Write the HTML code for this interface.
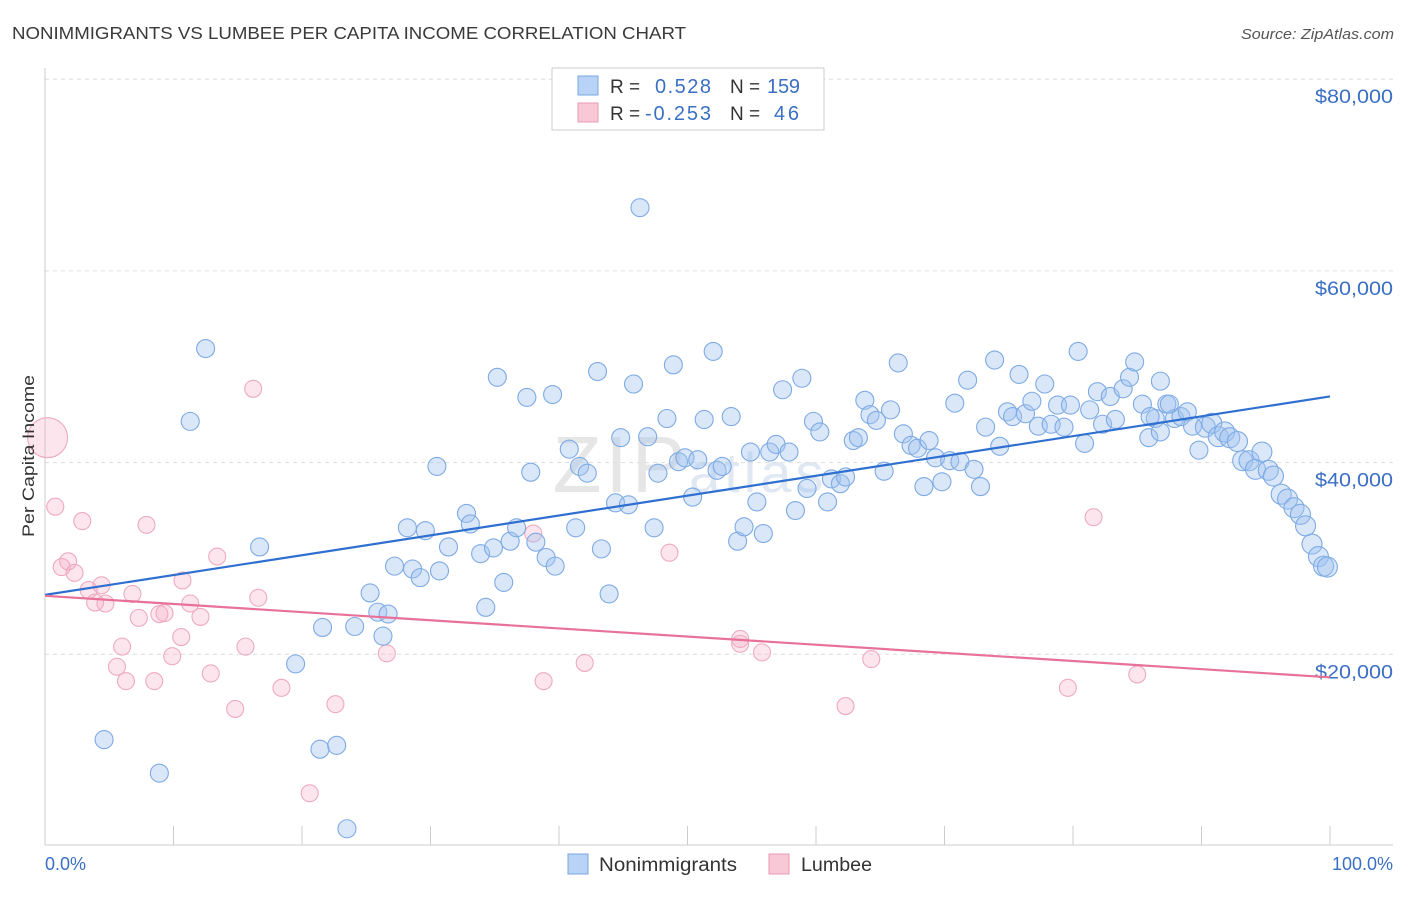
<!DOCTYPE html>
<html><head><meta charset="utf-8"><style>
body{margin:0;background:#fff;font-family:"Liberation Sans",sans-serif;}
svg text{font-family:"Liberation Sans",sans-serif;}
</style></head><body>
<svg id="chart" width="1406" height="892" xmlns="http://www.w3.org/2000/svg">
<text x="12" y="39" font-size="17.5" fill="#3a3a3a" textLength="674" lengthAdjust="spacingAndGlyphs">NONIMMIGRANTS VS LUMBEE PER CAPITA INCOME CORRELATION CHART</text>
<text x="1394" y="39" font-size="15" fill="#555" font-style="italic" text-anchor="end" textLength="153" lengthAdjust="spacingAndGlyphs">Source: ZipAtlas.com</text>
<text x="690" y="492" font-size="80" fill="#e6e6e6" text-anchor="middle" font-family="Liberation Serif" letter-spacing="4">ZIP<tspan font-family="Liberation Sans" font-size="56" fill="#dfe8f3">atlas</tspan></text>
<defs><clipPath id="plotClip"><rect x="30" y="60" width="1370" height="786"/></clipPath></defs>
<g id="grid"></g>
<g id="axes"></g>
<g id="pinkPts"></g>
<g id="bluePts"></g>
<g id="trends"></g>
<text transform="translate(34,456) rotate(-90)" font-size="17" fill="#333" text-anchor="middle" textLength="162" lengthAdjust="spacingAndGlyphs">Per Capita Income</text>
<text x="45" y="870" font-size="18" fill="#3a6fc4">0.0%</text>
<text x="1393" y="870" font-size="18" fill="#3a6fc4" text-anchor="end">100.0%</text>
<g>
<rect x="552" y="68" width="272" height="62" fill="#fff" stroke="#ccc"/>
<rect x="578" y="76" width="20" height="19" fill="#b8d3f5" stroke="#7aa7e0"/>
<rect x="578" y="103" width="20" height="19" fill="#f9c8d7" stroke="#e899b4"/>
<text x="610" y="93" font-size="19" fill="#333">R = </text><text x="655" y="93" font-size="20" fill="#3a6fc4" textLength="56">0.528</text>
<text x="730" y="93" font-size="19" fill="#333">N = </text><text x="767" y="93" font-size="20" fill="#3a6fc4" textLength="33">159</text>
<text x="610" y="120" font-size="19" fill="#333">R = </text><text x="645" y="120" font-size="20" fill="#3a6fc4" textLength="66">-0.253</text>
<text x="730" y="120" font-size="19" fill="#333">N = </text><text x="774" y="120" font-size="20" fill="#3a6fc4" textLength="25">46</text>
</g>
<g>
<rect x="568" y="854" width="20" height="20" fill="#b8d3f5" stroke="#7aa7e0"/>
<text x="599" y="871" font-size="19" fill="#333" textLength="138" lengthAdjust="spacingAndGlyphs">Nonimmigrants</text>
<rect x="769" y="854" width="20" height="20" fill="#f9c8d7" stroke="#e899b4"/>
<text x="801" y="871" font-size="19" fill="#333" textLength="71" lengthAdjust="spacingAndGlyphs">Lumbee</text>
</g>
</svg>
<script>
const yTicks=[20000,40000,60000,80000];
const yTickLabels=["$20,000","$40,000","$60,000","$80,000"];
const xTicks=[0,10,20,30,40,50,60,70,80,90,100];
const blueX=[12.5,11.3,16.7,4.6,8.9,19.5,21.4,22.7,23.5,21.6,24.1,25.3,26.3,25.9,26.7,27.2,28.2,28.6,29.2,29.6,30.7,30.5,31.4,32.8,33.1,33.9,34.3,34.9,35.2,35.7,36.2,36.7,37.5,37.8,38.2,39.0,39.7,39.5,40.8,41.6,42.2,41.3,43.0,43.3,43.9,44.4,45.4,44.8,45.8,46.3,46.9,47.4,47.7,48.4,48.9,49.3,49.8,50.4,50.8,51.3,52.0,52.3,52.7,53.4,53.9,54.4,54.9,55.4,55.9,56.4,56.9,57.4,57.9,58.4,58.9,59.3,59.8,60.3,60.9,61.2,61.9,62.3,62.9,63.3,63.8,64.2,64.7,65.3,65.8,66.4,66.8,67.4,67.9,68.4,68.8,69.3,69.8,70.4,70.8,71.2,71.8,72.3,72.8,73.2,73.9,74.3,74.9,75.3,75.8,76.3,76.8,77.3,77.8,78.3,78.8,79.3,79.8,80.4,80.9,81.3,81.9,82.3,82.9,83.3,83.9,84.4,84.8,85.4,85.9,86.4,86.8,87.3,87.9,88.4,88.9,89.3,89.8,90.3,90.8,91.3,91.8,92.2,92.8,93.2,93.7,94.2,94.7,95.2,95.6,96.2,96.7,97.2,97.7,98.1,98.6,99.1,99.5,99.8,86.0,86.8,87.5];
const blueY=[51900,44300,31200,11100,7600,19000,10100,10500,1800,22800,22900,26400,21900,24400,24200,29200,33200,28900,28000,32900,28700,39600,31200,34700,33600,30500,24900,31100,48900,27500,31800,33200,46800,39000,31700,30100,29200,47100,41400,39600,38900,33200,49500,31000,26300,35800,35600,42600,48200,66600,42700,33200,38900,44600,50200,40100,40500,36400,40300,44500,51600,39200,39600,44800,31800,33300,41100,35900,32600,41100,41900,47600,41100,35000,48800,37300,44300,43200,35900,38300,37800,38500,42300,42600,46500,45000,44400,39100,45500,50400,43000,41800,41500,37500,42300,40500,38000,40200,46200,40100,48600,39300,37500,43700,50700,41700,45300,44800,49200,45100,46400,43800,48200,44000,46000,43700,46000,51600,42000,45500,47400,44000,46900,44500,47700,48900,50500,46100,42600,44600,48500,46100,44600,44800,45300,43800,41300,43700,44100,42700,43200,42600,42200,40200,40200,39300,41100,39200,38600,36700,36200,35300,34600,33400,31500,30200,29200,29100,44800,43200,46100];
const pinkX=[0.2,0.8,2.9,1.3,1.8,2.3,3.4,3.9,4.4,4.7,5.6,6.0,6.3,6.8,7.3,7.9,8.5,8.9,9.3,9.9,10.6,10.7,11.3,12.1,12.9,13.4,14.8,15.6,16.2,16.6,18.4,20.6,22.6,26.6,38.0,38.8,42.0,48.6,54.1,54.1,55.8,62.3,64.3,79.6,81.6,85.0];
const pinkY=[42600,35400,33900,29100,29700,28500,26700,25400,27200,25300,18700,20800,17200,26300,23800,33500,17200,24200,24300,19800,21800,27700,25300,23900,18000,30200,14300,20800,47700,25900,16500,5500,14800,20100,32600,17200,19100,30600,21600,21100,20200,14600,19500,16500,34300,17900];
const blueTrend=[26200,46900];
const pinkTrend=[26100,17600];
const NS="http://www.w3.org/2000/svg";
const X=p=>45+p*12.85, Y=v=>846-v*191.7/20000;
function mk(tag,parent,attrs){const e=document.createElementNS(NS,tag);for(const k in attrs)e.setAttribute(k,attrs[k]);parent.appendChild(e);return e;}
const grid=document.getElementById('grid'),axes=document.getElementById('axes');
yTicks.forEach((t,i)=>{
 const l=mk('line',grid,{x1:45,x2:1393,y1:Y(t),y2:Y(t),stroke:'#ddd','stroke-dasharray':'4,4'});
 
 
 const tx=mk('text',grid,{x:1393,y:Y(t)+24,'font-size':19,fill:'#3a6fc4','text-anchor':'end',textLength:78,lengthAdjust:'spacingAndGlyphs'});
 tx.textContent=yTickLabels[i];
 
 
});
const ax=mk('line',axes,{x1:45,x2:1393,y1:845,y2:845,stroke:'#ccc'});


const ay=mk('line',axes,{x1:45,x2:45,y1:68,y2:845,stroke:'#ccc'});


xTicks.forEach(t=>{
 const l=mk('line',axes,{x1:X(t),x2:X(t),y1:826,y2:845,stroke:'#ccc'});
 
 
});
const pg=document.getElementById('pinkPts');
pinkX.forEach((x,i)=>{
 const c=mk('circle',pg,{cx:X(x),cy:Y(pinkY[i]),r:i===0?20:8.5,fill:'rgba(244,170,195,0.3)',stroke:'#eeaac2','stroke-width':1.1});
 
 
});
const bg=document.getElementById('bluePts');
blueX.forEach((x,i)=>{
 const c=mk('circle',bg,{cx:X(x),cy:Y(blueY[i]),r:x>90?10:9,fill:'rgba(160,196,240,0.4)',stroke:'#7eaae4','stroke-width':1.1});
 
 
});
const tg=document.getElementById('trends');
const bt=mk('line',tg,{x1:X(0),x2:X(100),y1:Y(blueTrend[0]),y2:Y(blueTrend[1]),stroke:'#2f6fd0','stroke-width':2.2});


const pt=mk('line',tg,{x1:X(0),x2:X(100),y1:Y(pinkTrend[0]),y2:Y(pinkTrend[1]),stroke:'#e8719a','stroke-width':2.2});


</script>
</body></html>
